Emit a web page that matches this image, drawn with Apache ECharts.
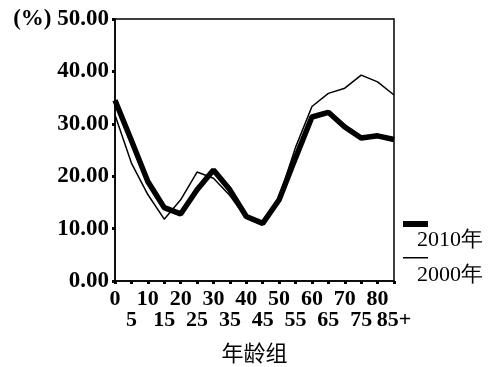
<!DOCTYPE html>
<html><head><meta charset="utf-8">
<script src="https://cdn.jsdelivr.net/npm/echarts@6/dist/echarts.min.js"></script>
<style>html,body{margin:0;padding:0;background:#fff}#c{width:495px;height:367px}</style>
</head><body><div id="c"></div>
<script>
const ages = ['0','5','10','15','20','25','30','35','40','45','50','55','60','65','70','75','80','85+'];
const y2010 = [34.5, 26.8, 19.0, 14.0, 12.8, 17.4, 21.2, 17.4, 12.3, 11.0, 15.5, 23.5, 31.3, 32.2, 29.4, 27.3, 27.7, 27.0];
const y2000 = [31.7, 22.5, 16.5, 11.8, 15.5, 20.8, 19.6, 16.3, 12.0, 11.3, 16.0, 25.5, 33.3, 35.8, 36.8, 39.3, 38.0, 35.5];
const yTicks = [0, 10, 20, 30, 40, 50];

const serif = '"Liberation Serif", "Times New Roman", serif';
const chart = echarts.init(document.getElementById('c'));
chart.setOption({
  animation: false,
  backgroundColor: '#fff',
  grid: { left: 115, right: 101, top: 19, bottom: 86, containLabel: false, outerBoundsMode: 'none',
          show: true, borderColor: '#000', borderWidth: 1.5, backgroundColor: 'transparent' },
  xAxis: {
    type: 'category', data: ages, boundaryGap: false,
    axisLine: { lineStyle: { color: '#000', width: 1.5 } },
    axisTick: { show: true, length: 3, interval: 0, lineStyle: { color: '#000', width: 3 } },
    axisLabel: {
      interval: 0, color: '#000', fontFamily: serif, fontSize: 22, fontWeight: 'bold', margin: 8, lineHeight: 21,
      verticalAlign: 'top',
      formatter: (v, i) => (i % 2 === 1 ? '\n' + v : v)
    },
    name: '年龄组', nameLocation: 'middle', nameGap: 61,
    nameTextStyle: { color: '#000', fontFamily: '"Noto Sans CJK SC"', fontSize: 22 }
  },
  yAxis: {
    type: 'value', min: 0, max: 50, interval: 10,
    splitLine: { show: false },
    axisLine: { show: true, lineStyle: { color: '#000', width: 1.5 } },
    axisTick: { show: true, length: 3, lineStyle: { color: '#000', width: 3 } },
    axisLabel: {
      color: '#000', fontFamily: serif, fontSize: 23, fontWeight: 'bold', margin: 6,
      formatter: v => (v === 50 ? '(%) ' : '') + v.toFixed(2)
    }
  },
  series: [
    { name: '2010年', type: 'line', data: y2010, symbol: 'none', lineStyle: { color: '#000', width: 5.5 }, z: 3 },
    { name: '2000年', type: 'line', data: y2000, symbol: 'none', lineStyle: { color: '#000', width: 1.5 }, z: 2 }
  ],
  graphic: [
    { type: 'rect', left: 403, top: 221, shape: { width: 25, height: 6 }, style: { fill: '#000' } },
    { type: 'text', left: 417, top: 229, style: { text: '2010年', fill: '#000', font: '22px ' + serif } },
    { type: 'rect', left: 403, top: 257, shape: { width: 25, height: 1.5 }, style: { fill: '#000' } },
    { type: 'text', left: 417, top: 264, style: { text: '2000年', fill: '#000', font: '22px ' + serif } }
  ]
});
</script></body></html>
